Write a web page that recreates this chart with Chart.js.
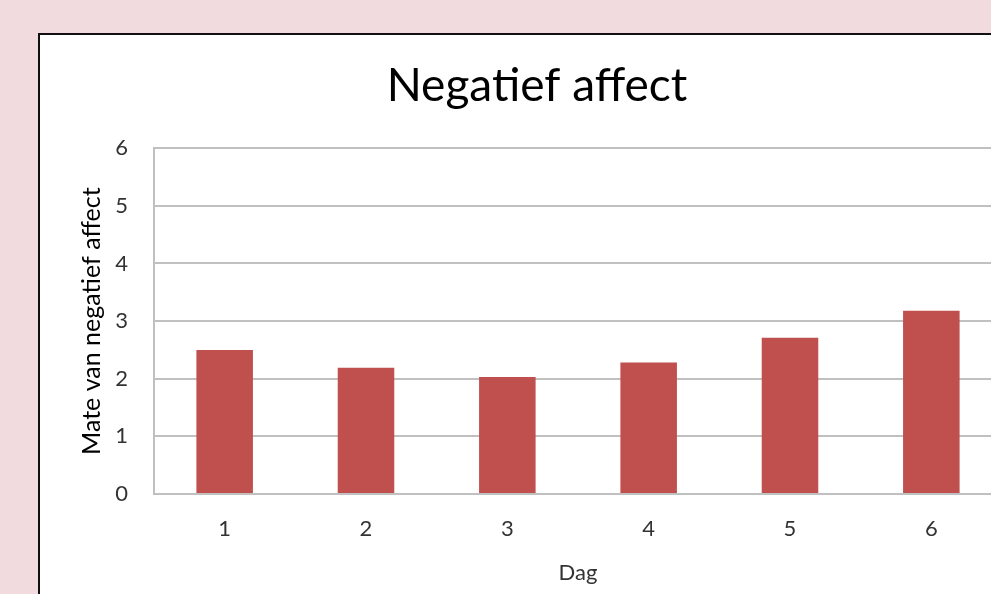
<!DOCTYPE html>
<html>
<head>
<meta charset="utf-8">
<script src="https://cdn.jsdelivr.net/npm/chart.js@4"></script>
<style>
  html, body { margin: 0; padding: 0; overflow: hidden; background: #f2dbdf; }
  #box {
    position: absolute; left: 38px; top: 33px;
    width: 994px; height: 600px;
    background: #fff; border: 2px solid #111;
  }
</style>
</head>
<body>
<div id="box"><canvas id="chart" width="994" height="600"></canvas></div>
<script>
// ---- Data ----
const days = ['1', '2', '3', '4', '5', '6'];
const negativeAffect = [2.50, 2.19, 2.03, 2.28, 2.71, 3.18];
const yTicks = [0, 1, 2, 3, 4, 5, 6];

const gridColor = '#c0c0c0';
const tickColor = '#333';
const font = 'Lato, "Open Sans", sans-serif';

new Chart(document.getElementById('chart'), {
  type: 'bar',
  data: {
    labels: days,
    datasets: [{
      label: 'Negatief affect',
      data: negativeAffect,
      backgroundColor: '#c0504d',
      barPercentage: 0.4,
      categoryPercentage: 1,
    }],
  },
  options: {
    responsive: false,
    animation: false,
    layout: { padding: 0 },
    plugins: {
      legend: { display: false },
      tooltip: { enabled: false },
      title: {
        display: true,
        text: 'Negatief affect',
        color: '#000',
        font: { family: font, size: 46, weight: 'normal' },
        padding: { top: 24, bottom: 34 },
      },
    },
    scales: {
      x: {
        grid: { display: false, drawTicks: false },
        border: { display: true, color: gridColor, width: 2 },
        ticks: { color: tickColor, font: { family: font, size: 22 }, padding: 22 },
        title: {
          display: true, text: 'Dag', color: tickColor,
          font: { family: font, size: 22 }, padding: { top: 0, bottom: 49 },
        },
        afterFit: (s) => { s.height = 141; },
      },
      y: {
        min: 0, max: 6,
        afterBuildTicks: (s) => { s.ticks = yTicks.map(v => ({ value: v })); },
        grid: { color: gridColor, lineWidth: 2, drawTicks: false },
        border: { display: true, color: gridColor, width: 2 },
        ticks: { color: tickColor, font: { family: font, size: 22 }, padding: 26 },
        title: {
          display: true, text: 'Mate van negatief affect', color: '#000',
          font: { family: font, size: 25 }, padding: { top: 37, bottom: 0 },
        },
        afterFit: (s) => { s.width = 114; },
      },
      // empty right-hand gutter so the title stays centred on the whole box
      gutter: {
        type: 'linear', position: 'right', display: true,
        grid: { display: false, drawTicks: false },
        border: { display: false },
        ticks: { display: false },
        afterFit: (s) => { s.width = 32; },
      },
    },
  },
});
</script>
</body>
</html>
